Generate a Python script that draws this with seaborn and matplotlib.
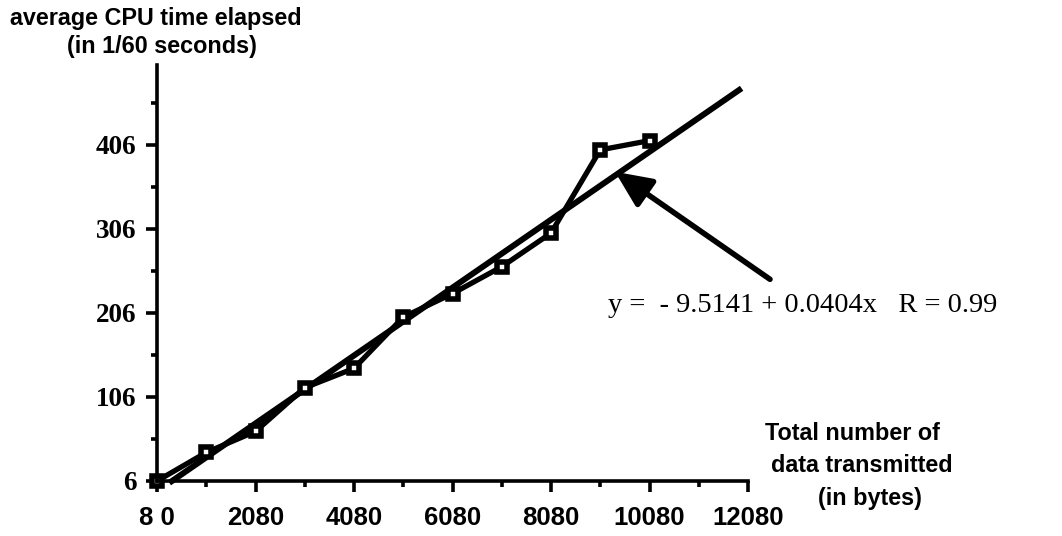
import numpy as np
import pandas as pd
import seaborn as sns
import matplotlib.pyplot as plt
from matplotlib.ticker import FixedLocator

# bytes transmitted vs average CPU time (1/60 s)
bytes_sent = [80, 1080, 2080, 3080, 4080, 5080, 6080, 7080, 8080, 9080, 10080]
cpu_time = [6, 40, 65, 117, 140, 201, 229, 261, 301, 400, 411]

# regression line reported on the chart
intercept = -9.5141
slope = 0.0404
fit_x = [330, 11950]

x_ticks = [80, 2080, 4080, 6080, 8080, 10080, 12080]
x_tick_labels = ["8 0", "2080", "4080", "6080", "8080", "10080", "12080"]
y_ticks = [6, 106, 206, 306, 406]

df = pd.DataFrame({"bytes": bytes_sent, "cpu": cpu_time})
fit_df = pd.DataFrame({"bytes": fit_x,
                       "cpu": [intercept + slope * v for v in fit_x]})

sns.set_style("ticks", rc={"axes.edgecolor": "black", "text.color": "black",
                           "xtick.color": "black", "ytick.color": "black",
                           "axes.labelcolor": "black"})
plt.rcParams["font.family"] = ["Liberation Sans", "DejaVu Sans"]

fig = plt.figure(figsize=(10.62, 5.36), dpi=100)
ax = fig.add_axes([157 / 1062, 1 - 481 / 536, (748 - 157) / 1062, (481 - 65) / 536])

sns.lineplot(data=fit_df, x="bytes", y="cpu", ax=ax, color="black",
             linewidth=4.3, solid_capstyle="butt")
sns.lineplot(data=df, x="bytes", y="cpu", ax=ax, color="black",
             linewidth=3.8, marker="s", markersize=7, markeredgewidth=4,
             markerfacecolor="white", markeredgecolor="black")
for ln in ax.lines:
    ln.set_clip_on(False)

ax.set_xlim(80, 12080)
ax.set_ylim(6, 501)
ax.xaxis.set_major_locator(FixedLocator(x_ticks))
ax.xaxis.set_minor_locator(FixedLocator([t + 1000 for t in x_ticks[:-1]]))
ax.yaxis.set_major_locator(FixedLocator(y_ticks))
ax.yaxis.set_minor_locator(FixedLocator([t + 50 for t in y_ticks]))
ax.set_xticklabels(x_tick_labels)
ax.set_xlabel("")
ax.set_ylabel("")

for s in ["top", "right"]:
    ax.spines[s].set_visible(False)
for s in ["left", "bottom"]:
    ax.spines[s].set_linewidth(2.6)
    ax.spines[s].set_color("black")

ax.tick_params(axis="both", which="major", length=8, width=2.6, color="black",
               labelcolor="black")
ax.tick_params(axis="both", which="minor", length=4, width=2.6, color="black")
ax.tick_params(axis="x", which="major", pad=10)
ax.tick_params(axis="y", which="major", pad=7)

for lab in ax.get_xticklabels():
    lab.set_fontfamily("Liberation Sans")
    lab.set_fontweight("bold")
    lab.set_fontsize(18.5)
for lab in ax.get_yticklabels():
    lab.set_fontfamily("Liberation Serif")
    lab.set_fontweight("bold")
    lab.set_fontsize(19.5)

# arrow pointing at the regression line
ax.annotate("", xy=(9380, 374), xytext=(12527, 246),
            arrowprops=dict(arrowstyle="-|>,head_length=1.1,head_width=0.5",
                            lw=4, color="black", mutation_scale=20,
                            shrinkA=0, shrinkB=0),
            annotation_clip=False)

fig.text(608 / 1062, 1 - 305 / 536, "y =  - 9.5141 + 0.0404x   R = 0.99",
         fontfamily="Liberation Serif", fontsize=20.5, ha="left", va="center",
         color="black")

title_kw = dict(fontsize=16.8, fontweight="bold", ha="center", va="center",
                color="black")
fig.text(156 / 1062, 1 - 18 / 536, "average CPU time elapsed", **title_kw)
fig.text(162 / 1062, 1 - 47 / 536, "(in 1/60 seconds)", **title_kw)

fig.text(852 / 1062, 1 - 433 / 536, "Total number of", **title_kw)
fig.text(862 / 1062, 1 - 465 / 536, "data transmitted", **title_kw)
fig.text(870 / 1062, 1 - 499 / 536, "(in bytes)", **title_kw)

fig.savefig("out.png", dpi=100, facecolor="white")
